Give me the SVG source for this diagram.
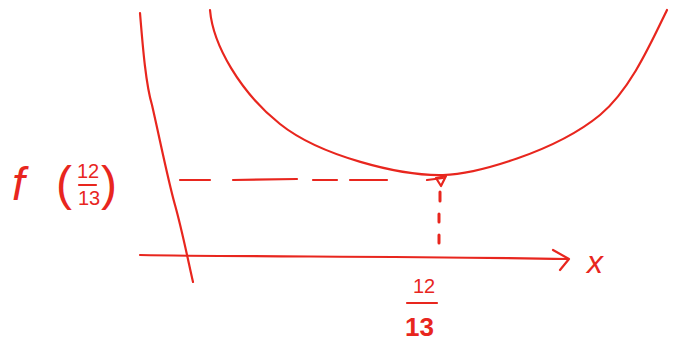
<svg xmlns="http://www.w3.org/2000/svg" width="677" height="349" viewBox="0 0 677 349">
<style>
.s{fill:none;stroke:#e8261e;stroke-width:2.2;stroke-linecap:round;stroke-linejoin:round}
.t{fill:#e8261e;font-family:"Liberation Sans",Arial,sans-serif}
</style>
<rect width="677" height="349" fill="#fff"/>
<g id="axes">
<path id="y-axis" class="s" d="M140,13 C143,50 146,85 152,105 C160,140 168,180 175,205 C182,230 188,260 193,282"/>
<path id="x-axis" class="s" d="M140,255 C250,257 400,256 568,259"/>
<path id="x-arrow" class="s" d="M553,250 L569,259 L560,270"/>
</g>
<g id="curve">
<path class="s" d="M210,10 C213,45 240,92 280,124 S400,176 443,175 C476,174 555,152 600,115 C630,90 650,45 667,10"/>
</g>
<g id="connectors">
<path class="s" d="M180,180 L210,180 M233,180 L297,179 M313,180 L337,180 M350,180 L387,180 M427,180 L443,178"/>
<path class="s" d="M436,178 L446,176 L441,186 Z" fill="#e8261e"/>
<path class="s" style="stroke-width:3" d="M440,192 L440,201 M439,214 L439,222 M439,235 L439,243"/>
</g>
<g id="label-f">
<text class="t" x="12" y="200" font-size="46" font-style="italic">f</text>
<text class="t" x="56" y="200" font-size="48">(</text>
<text class="t" x="77" y="178" font-size="20">12</text>
<line class="s" x1="79" y1="185" x2="96" y2="185"/>
<text class="t" x="78" y="205" font-size="20">13</text>
<text class="t" x="101" y="200" font-size="48">)</text>
</g>
<g id="label-x">
<text class="t" x="587" y="273" font-size="32" font-style="italic">x</text>
</g>
<g id="label-1213">
<text class="t" x="413" y="293" font-size="20">12</text>
<line class="s" x1="407" y1="303" x2="437" y2="303"/>
<text class="t" x="405" y="336" font-size="26" font-weight="bold">13</text>
</g>
</svg>
